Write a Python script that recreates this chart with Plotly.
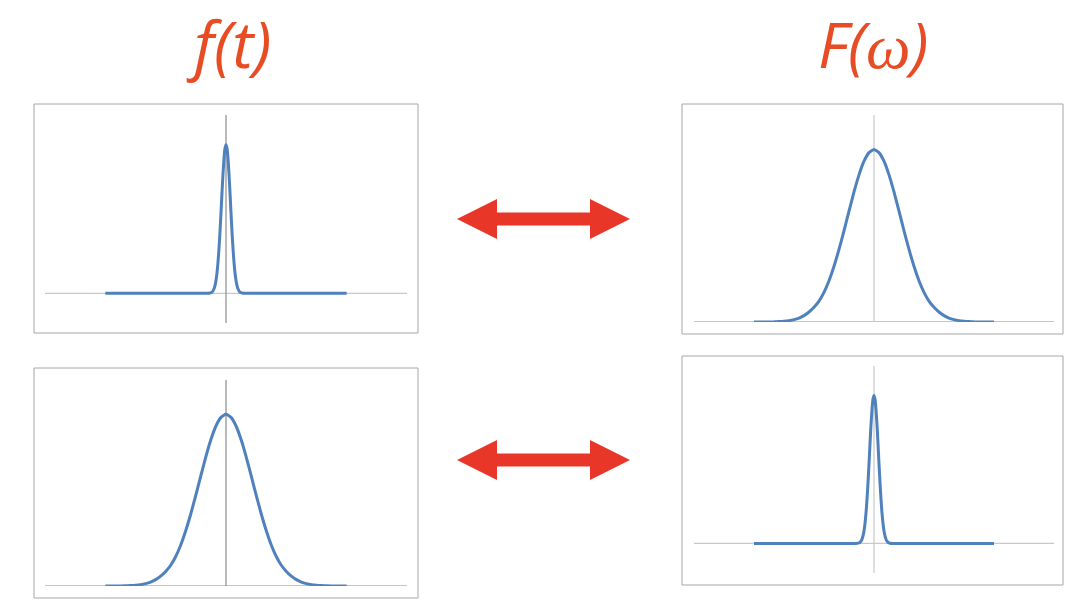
import plotly.graph_objects as go

# ---- data ----
# narrow Gaussian (top-left f(t), bottom-right F(w))
narrow_x = [-6.0, -1.0, -0.9, -0.8, -0.75, -0.7, -0.65, -0.6, -0.55, -0.5, -0.45, -0.4, -0.35,
            -0.3, -0.25, -0.2, -0.15, -0.1, -0.05, 0.0,
            0.05, 0.1, 0.15, 0.2, 0.25, 0.3, 0.35, 0.4, 0.45, 0.5, 0.55, 0.6, 0.65, 0.7, 0.75,
            0.8, 0.9, 1.0, 6.0]
narrow_y = [0.0, 0.0, 0.0003, 0.0018, 0.0039, 0.0079, 0.0154, 0.0286, 0.0504, 0.0846, 0.135,
            0.206, 0.298, 0.411, 0.539, 0.674, 0.801, 0.906, 0.976, 1.0,
            0.976, 0.906, 0.801, 0.674, 0.539, 0.411, 0.298, 0.206, 0.135, 0.0846, 0.0504,
            0.0286, 0.0154, 0.0079, 0.0039, 0.0018, 0.0003, 0.0, 0.0]
# wide Gaussian (top-right F(w), bottom-left f(t))
wide_x = [-6.0, -5.5, -5.0, -4.75, -4.5, -4.25, -4.0, -3.75, -3.5, -3.25, -3.0, -2.75, -2.5,
          -2.25, -2.0, -1.75, -1.5, -1.25, -1.0, -0.75, -0.5, -0.25, 0.0,
          0.25, 0.5, 0.75, 1.0, 1.25, 1.5, 1.75, 2.0, 2.25, 2.5, 2.75, 3.0, 3.25, 3.5, 3.75,
          4.0, 4.25, 4.5, 4.75, 5.0, 5.5, 6.0]
wide_y = [0.0, 0.0003, 0.0012, 0.0025, 0.0045, 0.008, 0.014, 0.023, 0.037, 0.058, 0.085,
          0.121, 0.172, 0.239, 0.323, 0.421, 0.529, 0.643, 0.754, 0.853, 0.932, 0.982, 1.0,
          0.982, 0.932, 0.853, 0.754, 0.643, 0.529, 0.421, 0.323, 0.239, 0.172, 0.121, 0.085,
          0.058, 0.037, 0.023, 0.014, 0.008, 0.0045, 0.0025, 0.0012, 0.0003, 0.0]

titles = ["f(t)", "F(<span style=\"font-family:'Liberation Serif'\"><i>ω</i></span>)"]
x_range = [-9, 9]
y_range_low = [-0.2, 1.2]
y_range_base = [0.0, 1.2]

W, H = 1084, 610
def px(x): return x / W
def py(y): return 1 - y / H

BLUE = "#4F81BD"
DARK = "#8C8C8C"
LIGHT = "#C8C8C8"
BOX = "#A6A6A6"
TITLE_C = "#E84C24"
ARROW_C = "#E83628"

panels = [
    ("", (45, 407, 115, 323), (narrow_x, narrow_y), y_range_low, DARK, LIGHT, (34, 418, 104, 333)),
    ("2", (694, 1054, 115, 322), (wide_x, wide_y), y_range_base, LIGHT, DARK, (682, 1063, 104, 334)),
    ("3", (45, 407, 380, 586), (wide_x, wide_y), y_range_base, DARK, DARK, (34, 418, 368, 598)),
    ("4", (694, 1054, 366, 573), (narrow_x, narrow_y), y_range_low, LIGHT, LIGHT, (682, 1063, 356, 585)),
]

fig = go.Figure()
shapes = []
layout_axes = {}
for suf, (x0, x1, y0, y1), (xs, ys), yr, vcol, hcol, (bx0, bx1, by0, by1) in panels:
    xa = "x" + suf
    ya = "y" + suf
    shapes.append(dict(type="rect", xref="paper", yref="paper",
                       x0=px(bx0), x1=px(bx1), y0=py(by1), y1=py(by0),
                       line=dict(color=BOX, width=1), fillcolor="rgba(0,0,0,0)", layer="below"))
    shapes.append(dict(type="line", xref=xa, yref=ya, x0=x_range[0], x1=x_range[1], y0=0, y1=0,
                       line=dict(color=hcol, width=1.2), layer="below"))
    shapes.append(dict(type="line", xref=xa, yref=ya, x0=0, x1=0, y0=yr[0], y1=yr[1],
                       line=dict(color=vcol, width=1.2), layer="below"))
    fig.add_trace(go.Scatter(x=xs, y=ys, mode="lines", xaxis=xa, yaxis=ya,
                             line=dict(color=BLUE, width=3, simplify=False,
                                       shape="spline", smoothing=0.5),
                             hoverinfo="skip", showlegend=False))
    ax_common = dict(showgrid=False, zeroline=False, showticklabels=False, showline=False, ticks="")
    layout_axes["xaxis" + suf] = dict(domain=[px(x0), px(x1)], range=x_range, anchor=ya, **ax_common)
    layout_axes["yaxis" + suf] = dict(domain=[py(y1), py(y0)], range=yr, anchor=xa, **ax_common)

def arrow(cy, xl=457, xr=630, head=40, half_h=20, half_t=6.5):
    pts = [(xl, cy), (xl + head, cy - half_h), (xl + head, cy - half_t), (xr - head, cy - half_t),
           (xr - head, cy - half_h), (xr, cy), (xr - head, cy + half_h), (xr - head, cy + half_t),
           (xl + head, cy + half_t), (xl + head, cy + half_h)]
    path = "M " + " L ".join(f"{px(a):.5f},{py(b):.5f}" for a, b in pts) + " Z"
    return dict(type="path", xref="paper", yref="paper", path=path,
                fillcolor=ARROW_C, line=dict(width=0))

shapes.append(arrow(219))
shapes.append(arrow(460))

annotations = [
    dict(text=titles[0], x=px(229), y=py(44), xref="paper", yref="paper", showarrow=False,
         xanchor="center", yanchor="middle",
         font=dict(family="Open Sans", size=64, color=TITLE_C, style="italic")),
    dict(text=titles[1], x=px(873), y=py(43), xref="paper", yref="paper", showarrow=False,
         xanchor="center", yanchor="middle",
         font=dict(family="Open Sans", size=63, color=TITLE_C, style="italic")),
]

fig.update_layout(width=W, height=H, margin=dict(l=0, r=0, t=0, b=0),
                  paper_bgcolor="white", plot_bgcolor="white",
                  shapes=shapes, annotations=annotations, showlegend=False,
                  **layout_axes)

fig.write_html("out.html", config={"displayModeBar": False},
               post_script="document.body.style.margin='0';")
